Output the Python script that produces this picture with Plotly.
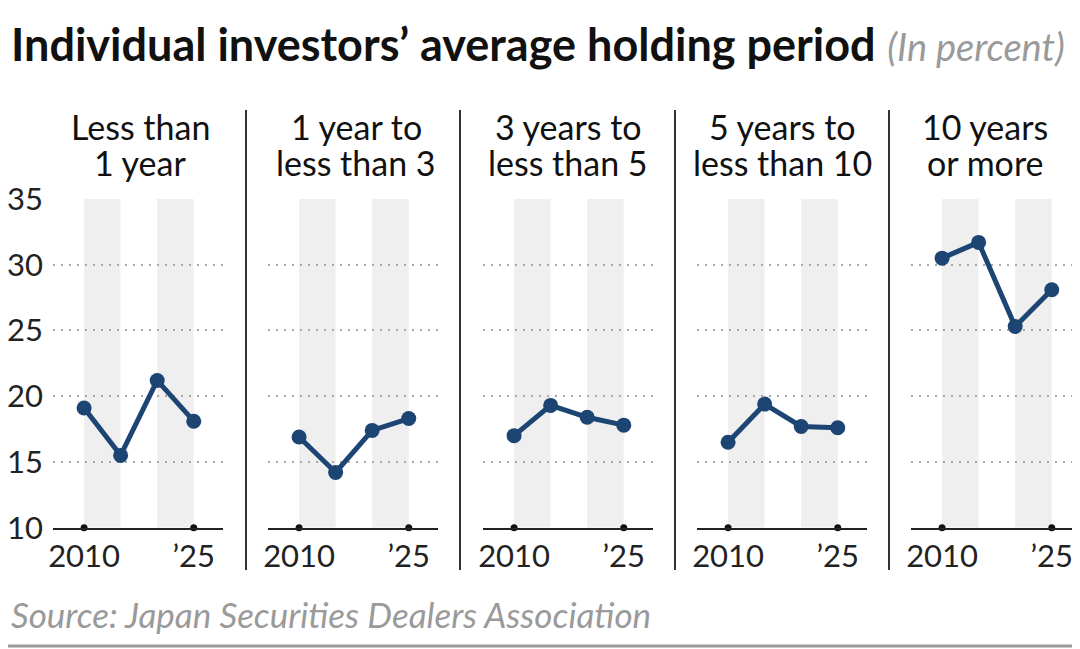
import plotly.graph_objects as go

W, H = 1080, 649

years = [2010, 2015, 2020, 2025]
header_line1 = ["Less than", "1 year to", "3 years to", "5 years to", "10 years"]
header_line2 = ["1 year", "less than 3", "less than 5", "less than 10", "or more"]
less_than_1 = [19.1, 15.5, 21.2, 18.1]
one_to_3 = [16.9, 14.2, 17.4, 18.3]
three_to_5 = [17.0, 19.3, 18.4, 17.8]
five_to_10 = [16.5, 19.4, 17.7, 17.6]
ten_plus = [30.5, 31.7, 25.3, 28.1]
series = [less_than_1, one_to_3, three_to_5, five_to_10, ten_plus]
y_ticks = [10, 15, 20, 25, 30, 35]
x_tickvals = [2010, 2025]
x_ticktext = ["2010", "\u201925"]
bands = [(2010, 2015), (2020, 2025)]

FONT = "Lato"
NAVY = "#1c4573"
OFF = 8  # page body margin compensation

def px(x):
    return (x - OFF) / W

def py(y):
    return 1 - (y - OFF) / H

panel_left = [53, 268, 483, 697, 911]
panel_w = 170
header_cx = [140, 356, 568, 782, 985]
sep_x = [246, 460, 675, 889]
y_dom = [py(527.7), py(199)]

fig = go.Figure()
shapes = []
annotations = []

for i, vals in enumerate(series):
    n = "" if i == 0 else str(i + 1)
    xa = "x" + n
    ya = "y" + n
    fig.add_trace(go.Scatter(
        x=years, y=vals, xaxis=xa, yaxis=ya, mode="lines+markers",
        line=dict(color=NAVY, width=5), marker=dict(color=NAVY, size=15),
        hoverinfo="skip", showlegend=False))
    fig.add_trace(go.Scatter(
        x=x_tickvals, y=[y_ticks[0]] * len(x_tickvals), xaxis=xa, yaxis=ya,
        mode="markers", marker=dict(color="#111", size=7), cliponaxis=False,
        hoverinfo="skip", showlegend=False))
    l = panel_left[i]
    fig.layout["xaxis" + n] = dict(
        domain=[px(l), min(px(l + panel_w), 1.0)], anchor=ya,
        range=[2005.75, 2029.0], showgrid=False, zeroline=False,
        showline=True, linecolor="#222", linewidth=2,
        tickvals=x_tickvals, ticktext=x_ticktext, ticks="",
        ticklabelstandoff=0, automargin=False,
        tickfont=dict(family=FONT, size=31, color="#222"), fixedrange=True)
    fig.layout["yaxis" + n] = dict(
        domain=y_dom, anchor=xa, range=[10, 35], tickvals=y_ticks,
        showgrid=True, gridcolor="#a8a8a8", griddash="2px,6px", gridwidth=2,
        zeroline=False, showline=False, showticklabels=(i == 0), ticks="",
        ticklabelstandoff=9, automargin=False,
        tickfont=dict(family=FONT, size=31, color="#222"), fixedrange=True)
    for b0, b1 in bands:
        shapes.append(dict(type="rect", xref=xa, yref=ya, x0=b0, x1=b1,
                           y0=10, y1=35, fillcolor="#efefef", line_width=0,
                           layer="below"))
    annotations.append(dict(text=header_line1[i], x=px(header_cx[i]), y=py(127),
                            xref="paper", yref="paper", xanchor="center",
                            yanchor="middle", showarrow=False,
                            font=dict(family=FONT, size=34, color="#111")))
    annotations.append(dict(text=header_line2[i], x=px(header_cx[i]), y=py(163),
                            xref="paper", yref="paper", xanchor="center",
                            yanchor="middle", showarrow=False,
                            font=dict(family=FONT, size=34, color="#111")))

for sx in sep_x:
    shapes.append(dict(type="line", xref="paper", yref="paper",
                       x0=px(sx), x1=px(sx), y0=py(110), y1=py(570),
                       line=dict(color="#333", width=2)))

shapes.append(dict(type="line", xref="paper", yref="paper", x0=0, x1=1,
                   y0=py(646), y1=py(646), line=dict(color="#9a9a9a", width=3)))

annotations.append(dict(
    text="<b>Individual investors\u2019 average holding period</b> "
         "<i><span style='color:#9a9a9a;font-size:38px'>(In percent)</span></i>",
    x=px(9), y=py(44), xref="paper", yref="paper", xanchor="left",
    yanchor="middle", showarrow=False,
    font=dict(family=FONT, size=45, color="#111")))
annotations.append(dict(
    text="<i>Source: Japan Securities Dealers Association</i>",
    x=px(9), y=py(614), xref="paper", yref="paper", xanchor="left",
    yanchor="middle", showarrow=False,
    font=dict(family=FONT, size=35, color="#9a9a9a")))

fig.update_layout(width=W, height=H, margin=dict(l=0, r=0, t=0, b=0, autoexpand=False),
                  paper_bgcolor="white", plot_bgcolor="white",
                  shapes=shapes, annotations=annotations)
fig.write_html("out.html", config={"displayModeBar": False})
